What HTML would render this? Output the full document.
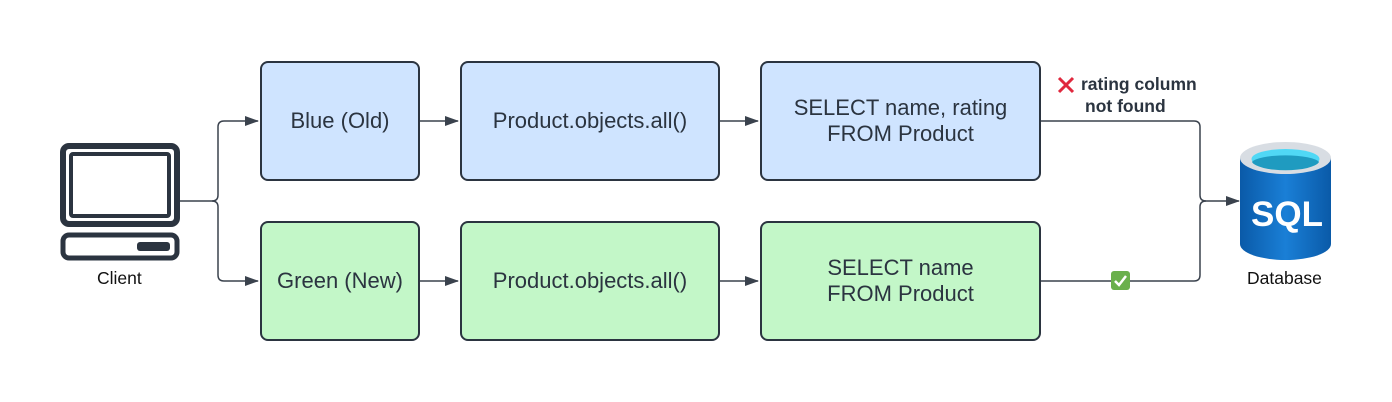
<!DOCTYPE html>
<html><head><style>
body{margin:0;background:#fff;width:1392px;height:402px;overflow:hidden;font-family:"Liberation Sans",sans-serif;}
.b{position:absolute;border:2px solid #2b3440;border-radius:8px;box-sizing:border-box;display:flex;align-items:center;justify-content:center;text-align:center;font-size:22px;color:#2b3440;line-height:26px;}
.bl{background:#cfe4ff}.gr{background:#c3f7c8}
.t{position:absolute;font-size:17.5px;color:#111;}
</style></head><body>
<svg width="1392" height="402" style="position:absolute;left:0;top:0">
<defs><marker id="a" markerWidth="14" markerHeight="12" refX="13" refY="6" orient="auto" markerUnits="userSpaceOnUse"><path d="M0,1 L14,6 L0,11Z" fill="#3a424d"/></marker></defs>
<g stroke="#3a424d" stroke-width="1.5" fill="none">
<path d="M180,201 H212 Q218,201 218,195 V127 Q218,121 224,121 H258" marker-end="url(#a)"/>
<path d="M212,201 Q218,201 218,207 V275 Q218,281 224,281 H258" marker-end="url(#a)"/>
<path d="M420,121 H458" marker-end="url(#a)"/><path d="M720,121 H758" marker-end="url(#a)"/>
<path d="M420,281 H458" marker-end="url(#a)"/><path d="M720,281 H758" marker-end="url(#a)"/>
<path d="M1041,121 H1194 Q1200,121 1200,127 V195 Q1200,201 1206,201 H1239" marker-end="url(#a)"/>
<path d="M1041,281 H1194 Q1200,281 1200,275 V207 Q1200,201 1206,201"/>
</g>
<g fill="none" stroke="#2b3440">
<rect x="63" y="146" width="114" height="78" rx="6" stroke-width="6"/>
<rect x="71" y="154" width="98" height="62" rx="2" stroke-width="4"/>
<rect x="63" y="235" width="114" height="23" rx="6" stroke-width="5"/>
</g>
<rect x="137" y="242" width="33" height="9" rx="3" fill="#2b3440"/>
<defs><linearGradient id="g" x1="0" x2="1"><stop offset="0" stop-color="#0a5aa8"/><stop offset="0.5" stop-color="#1a7fd6"/><stop offset="1" stop-color="#0a5aa8"/></linearGradient></defs>
<path d="M1240,158 V244 A45.5,16 0 0 0 1331,244 V158Z" fill="url(#g)"/>
<ellipse cx="1285.5" cy="158" rx="45.5" ry="16" fill="#d8dde3"/>
<ellipse cx="1285.5" cy="159" rx="34" ry="10" fill="#50d8f5"/>
<path d="M1252,162 A34,8 0 0 1 1319,162 A34,10 0 0 1 1252,162Z" fill="#1f9bc0"/>
<text x="1287" y="226" text-anchor="middle" font-family="Liberation Sans" font-weight="bold" font-size="35" fill="#fff">SQL</text>
<path d="M1059,78 L1073,92 M1073,78 L1059,92" stroke="#e0283e" stroke-width="3"/>
<rect x="1111" y="271" width="19" height="19" rx="3" fill="#6ab04c"/>
<path d="M1115,281 L1119,285 L1126,276" stroke="#fff" stroke-width="2.5" fill="none"/>
</svg>
<div class="b bl" style="left:260px;top:61px;width:160px;height:120px">Blue (Old)</div>
<div class="b bl" style="left:460px;top:61px;width:260px;height:120px">Product.objects.all()</div>
<div class="b bl" style="left:760px;top:61px;width:281px;height:120px">SELECT name, rating<br>FROM Product</div>
<div class="b gr" style="left:260px;top:221px;width:160px;height:120px">Green (New)</div>
<div class="b gr" style="left:460px;top:221px;width:260px;height:120px">Product.objects.all()</div>
<div class="b gr" style="left:760px;top:221px;width:281px;height:120px">SELECT name<br>FROM Product</div>
<div class="t" style="left:97px;top:268px">Client</div>
<div class="t" style="left:1247px;top:268px">Database</div>
<div class="t" style="left:1081px;top:73px;font-weight:bold;color:#2b3440;line-height:22px;">rating column<br><span style="padding-left:4px">not found</span></div>
</body></html>
